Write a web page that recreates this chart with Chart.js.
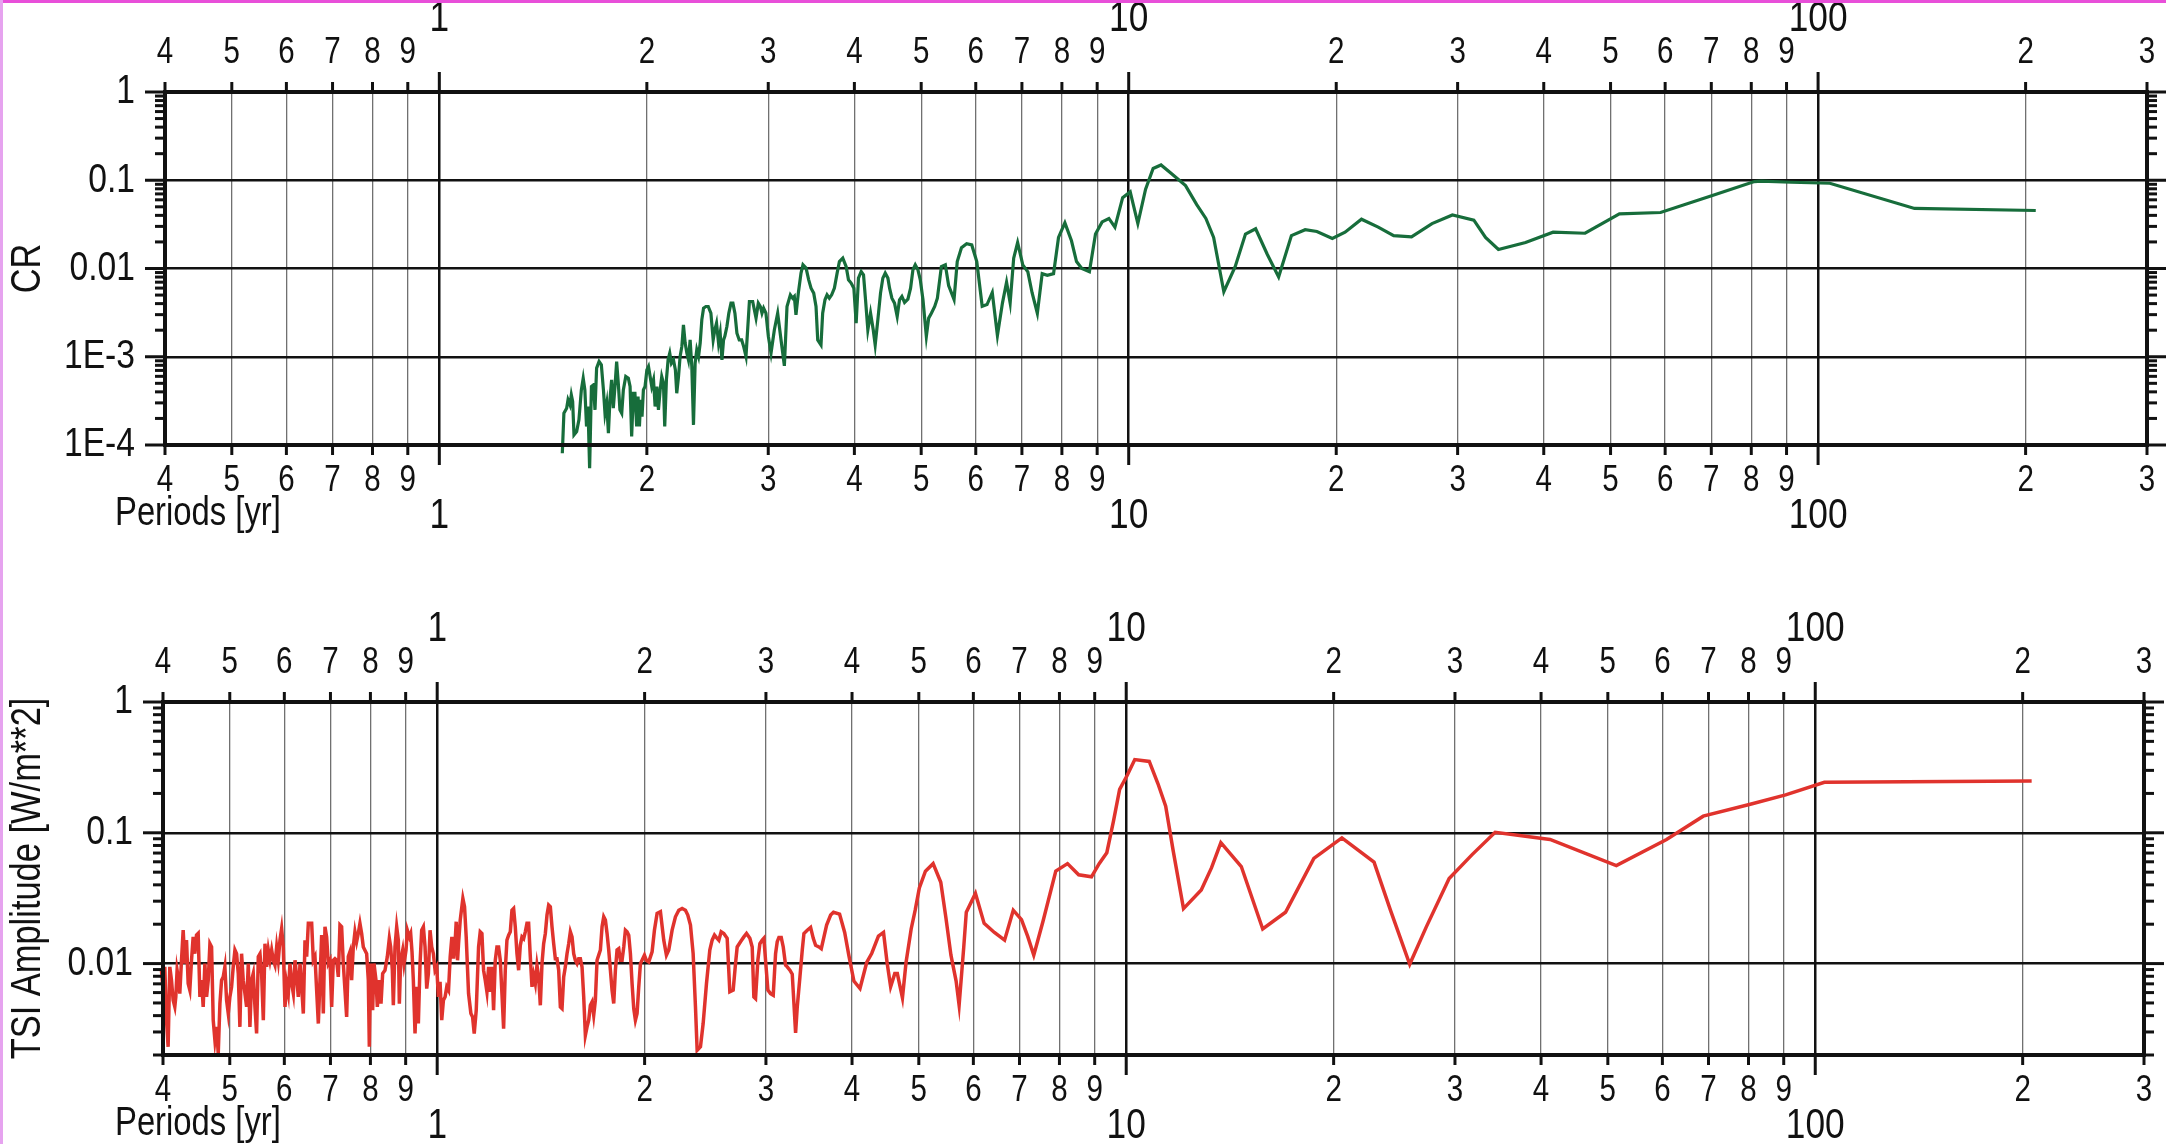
<!DOCTYPE html>
<html>
<head>
<meta charset="utf-8">
<script src="https://cdn.jsdelivr.net/npm/chart.js@4.4.1/dist/chart.umd.min.js"></script>
<style>
  html, body { margin: 0; padding: 0; background: #fff; }
  #page { position: relative; width: 2166px; height: 1144px; overflow: hidden; background: #fff; }
  canvas { position: absolute; left: 0; }
  #edgeTop { position: absolute; left: 0; top: 0; width: 2166px; height: 3px; background: #e84fd9; }
  #edgeLeft { position: absolute; left: 0; top: 0; width: 3px; height: 1144px; background: #e6a3ef; }
</style>
</head>
<body>
<div id="page">
  <canvas id="chartCR" width="2166" height="560" style="top:0"></canvas>
  <canvas id="chartTSI" width="2166" height="584" style="top:560px"></canvas>
  <div id="edgeTop"></div>
  <div id="edgeLeft"></div>
</div>
<script>
// period axis (years), same for both panels
const periodTicks = [0.4,0.5,0.6,0.7,0.8,0.9,1,2,3,4,5,6,7,8,9,10,20,30,40,50,60,70,80,90,100,200,300];
const periodTickLabels = ['4','5','6','7','8','9','','2','3','4','5','6','7','8','9','','2','3','4','5','6','7','8','9','','2','3'];
const decadeTicks = [1, 10, 100];
const decadeLabels = ['1', '10', '100'];

const crYTicks = [1, 0.1, 0.01, 0.001, 0.0001];
const crYLabels = ['1', '0.1', '0.01', '1E-3', '1E-4'];
const tsiYTicks = [1, 0.1, 0.01];
const tsiYLabels = ['1', '0.1', '0.01'];

// CR spectrum
const crPeriod = [1.508,1.516,1.530,1.537,1.547,1.554,1.561,1.568,1.582,1.594,1.607,1.617,1.626,1.635,1.643,1.652,1.662,1.673,1.682,1.691,
  1.705,1.718,1.730,1.739,1.749,1.759,1.768,1.778,1.788,1.798,1.808,1.818,1.828,1.839,1.849,1.864,1.880,1.891,1.901,1.912,
  1.922,1.933,1.942,1.951,1.959,1.968,1.977,1.988,2.000,2.011,2.022,2.033,2.045,2.056,2.068,2.079,2.091,2.102,2.114,2.123,
  2.135,2.147,2.159,2.171,2.186,2.200,2.210,2.223,2.235,2.248,2.260,2.273,2.286,2.298,2.311,2.324,2.337,2.350,2.363,2.377,
  2.390,2.403,2.417,2.436,2.455,2.477,2.496,2.510,2.524,2.541,2.555,2.570,2.584,2.595,2.613,2.630,2.649,2.666,2.684,2.702,
  2.723,2.745,2.763,2.785,2.817,2.848,2.880,2.902,2.922,2.938,2.954,2.977,3.001,3.028,3.062,3.096,3.131,3.166,3.194,3.230,
  3.255,3.273,3.291,3.317,3.347,3.369,3.404,3.434,3.461,3.492,3.519,3.539,3.578,3.598,3.626,3.651,3.679,3.708,3.742,3.776,
  3.805,3.848,3.892,3.922,3.957,3.993,4.024,4.055,4.092,4.124,4.152,4.184,4.222,4.260,4.288,4.326,4.365,4.399,4.434,4.474,
  4.499,4.534,4.574,4.615,4.651,4.688,4.730,4.783,4.826,4.864,4.902,4.946,4.985,5.030,5.087,5.127,5.173,5.231,5.278,5.349,
  5.42,5.48,5.58,5.64,5.72,5.82,5.92,6.02,6.13,6.23,6.34,6.45,6.56,6.65,6.73,6.81,6.90,7.02,7.14,7.24,
  7.37,7.49,7.62,7.78,7.91,8.08,8.26,8.40,8.55,8.77,8.95,9.15,9.36,9.55,9.80,10.05,10.31,10.58,10.85,11.14,
  11.53,12.09,12.55,12.94,13.28,13.74,14.27,14.77,15.28,15.89,16.50,17.22,18.03,18.75,19.74,20.60,21.76,23.01,24.23,25.72,
  27.54,29.48,31.67,32.93,34.38,37.64,41.27,45.92,51.50,59.09,70.43,80.84,82.70,91.33,104.0,138.0,206.9];
const crValue = [8.07e-5,2.29e-4,2.61e-4,3.25e-4,2.85e-4,3.70e-4,3.11e-4,1.30e-4,1.42e-4,1.93e-4,4.21e-4,5.71e-4,4.21e-4,1.62e-4,2.73e-4,5.45e-5,4.60e-4,4.80e-4,2.50e-4,7.42e-4,
  8.83e-4,8.09e-4,4.21e-4,2.29e-4,2.98e-4,1.36e-4,3.25e-4,5.47e-4,2.61e-4,4.60e-4,8.83e-4,5.02e-4,2.50e-4,2.29e-4,4.21e-4,5.97e-4,5.71e-4,4.60e-4,1.25e-4,3.86e-4,
  3.86e-4,1.62e-4,3.54e-4,1.62e-4,3.25e-4,2.10e-4,4.21e-4,4.60e-4,7.10e-4,7.75e-4,5.97e-4,4.60e-4,5.47e-4,2.73e-4,4.60e-4,2.50e-4,4.21e-4,5.97e-4,5.02e-4,1.62e-4,
  5.47e-4,9.23e-4,1.10e-3,8.46e-4,9.23e-4,7.10e-4,3.86e-4,5.97e-4,1.01e-3,1.31e-3,2.30e-3,1.43e-3,1.10e-3,9.23e-4,1.55e-3,7.75e-4,1.69e-4,8.46e-4,1.20e-3,1.01e-3,
  1.43e-3,2.62e-3,3.55e-3,3.71e-3,3.71e-3,3.12e-3,1.55e-3,2.02e-3,2.40e-3,1.43e-3,1.85e-3,9.23e-4,1.55e-3,1.70e-3,2.20e-3,3.12e-3,4.05e-3,4.05e-3,3.12e-3,1.85e-3,
  1.55e-3,1.55e-3,1.31e-3,1.01e-3,4.23e-3,4.23e-3,2.74e-3,4.05e-3,3.71e-3,3.12e-3,3.55e-3,3.12e-3,1.70e-3,1.10e-3,2.02e-3,3.12e-3,1.55e-3,7.88e-4,3.71e-3,5.03e-3,
  4.61e-3,4.82e-3,2.99e-3,5.26e-3,8.86e-3,1.10e-2,1.01e-2,7.44e-3,5.99e-3,5.26e-3,3.71e-3,1.55e-3,1.36e-3,3.12e-3,4.42e-3,5.03e-3,4.61e-3,5.03e-3,5.99e-3,8.86e-3,
  1.20e-2,1.31e-2,1.05e-2,7.44e-3,6.83e-3,5.99e-3,2.40e-3,7.78e-3,9.25e-3,8.48e-3,4.42e-3,2.02e-3,3.12e-3,2.02e-3,1.36e-3,2.62e-3,5.26e-3,7.78e-3,8.86e-3,7.78e-3,
  5.99e-3,4.61e-3,4.05e-3,2.86e-3,4.42e-3,4.82e-3,4.12e-3,4.49e-3,5.99e-3,9.66e-3,1.10e-2,9.66e-3,7.44e-3,4.42e-3,1.70e-3,2.74e-3,3.12e-3,3.71e-3,4.61e-3,1.05e-2,
  0.0110,0.00640,0.00446,0.0120,0.0172,0.0191,0.0185,0.0120,0.00373,0.00390,0.00535,0.00174,0.00408,0.00700,0.00408,0.0131,0.0197,0.0110,0.00917,0.00535,
  0.00311,0.00875,0.00838,0.00875,0.0225,0.0329,0.0206,0.0120,0.0100,0.00917,0.0246,0.0337,0.0369,0.0294,0.0634,0.0738,0.0323,0.0793,0.136,0.149,
  0.119,0.0869,0.0529,0.0369,0.0225,0.00545,0.0105,0.0246,0.0282,0.0144,0.00801,0.0236,0.0275,0.0263,0.0219,0.0258,0.0362,0.0294,0.0236,0.0229,
  0.0323,0.0404,0.0353,0.0225,0.0164,0.0197,0.0258,0.0251,0.0415,0.0431,0.0675,0.0966,0.0975,0.0949,0.0925,0.0479,0.0454];

// TSI amplitude spectrum
const tsiPeriod = [0.3979,0.4002,0.4024,0.4047,0.4069,0.4092,0.4115,0.4138,0.4161,0.4175,0.4193,0.4208,0.4231,0.4255,0.4279,0.4303,0.4327,0.4351,0.4375,0.4400,
  0.4424,0.4449,0.4474,0.4499,0.4525,0.4550,0.4575,0.4601,0.4627,0.4653,0.4679,0.4705,0.4731,0.4758,0.4784,0.4811,0.4838,0.4865,0.4892,0.4919,
  0.4947,0.4975,0.5002,0.5030,0.5058,0.5087,0.5115,0.5144,0.5172,0.5201,0.5230,0.5260,0.5289,0.5319,0.5348,0.5378,0.5408,0.5439,0.5469,0.5500,
  0.5531,0.5561,0.5593,0.5624,0.5655,0.5687,0.5719,0.5751,0.5783,0.5815,0.5848,0.5880,0.5913,0.5946,0.5979,0.6013,0.6047,0.6080,0.6114,0.6149,
  0.6183,0.6218,0.6252,0.6287,0.6323,0.6358,0.6393,0.6429,0.6465,0.6501,0.6574,0.6610,0.6647,0.6684,0.6722,0.6759,0.6797,0.6835,0.6873,0.6911,
  0.6950,0.6989,0.7028,0.7067,0.7106,0.7146,0.7186,0.7226,0.7266,0.7307,0.7348,0.7389,0.7430,0.7471,0.7513,0.7555,0.7597,0.7640,0.7682,0.7725,
  0.7769,0.7812,0.7900,0.7944,0.7971,0.8006,0.8060,0.8096,0.8150,0.8187,0.8242,0.8288,0.8334,0.8399,0.8465,0.8522,0.8560,0.8608,0.8637,0.8685,
  0.8734,0.8782,0.8812,0.8852,0.8911,0.8951,0.9011,0.9051,0.9112,0.9152,0.9193,0.9234,0.9286,0.9338,0.9390,0.9443,0.9495,0.9549,0.9602,0.9656,
  0.9710,0.9764,0.9819,0.9874,0.9929,0.9984,1.0040,1.0096,1.0153,1.0210,1.0267,1.0324,1.0386,1.0444,1.0503,1.0562,1.0621,1.0656,1.0704,1.0740,
  1.0800,1.0896,1.0957,1.1018,1.1105,1.1192,1.1255,1.1317,1.1394,1.1483,1.1547,1.1612,1.1677,1.1742,1.1808,1.1874,1.1940,1.2007,1.2074,1.2142,
  1.2210,1.2278,1.2347,1.2416,1.2485,1.2555,1.2625,1.2696,1.2767,1.2838,1.2910,1.2982,1.3055,1.3128,1.3201,1.3275,1.3349,1.3424,1.3499,1.3574,
  1.3650,1.3727,1.3803,1.3881,1.3958,1.4036,1.4115,1.4194,1.4273,1.4353,1.4433,1.4514,1.4595,1.4677,1.4759,1.4841,1.4924,1.5008,1.5092,1.5176,
  1.5261,1.5346,1.5432,1.5518,1.5605,1.5692,1.5780,1.5868,1.5957,1.6046,1.6136,1.6226,1.6317,1.6408,1.6500,1.6592,1.6685,1.6778,1.6872,1.6966,
  1.7061,1.7156,1.7252,1.7349,1.7446,1.7543,1.7641,1.7740,1.7839,1.7939,1.8039,1.8140,1.8241,1.8343,1.8446,1.8549,1.8653,1.8757,1.8862,1.8967,
  1.9073,1.9180,1.9287,1.9395,1.9503,1.9612,1.9722,1.9987,2.0121,2.0279,2.0506,2.0667,2.0852,2.1086,2.1322,2.1513,2.1682,2.1925,2.2171,2.2419,
  2.2671,2.2925,2.3105,2.3312,2.3521,2.3705,2.3838,2.4105,2.4321,2.4594,2.4869,2.5064,2.5261,2.5430,2.5630,2.5831,2.6062,2.6355,2.6590,2.6889,
  2.7100,2.7251,2.7557,2.7866,2.8115,2.8431,2.8654,2.8814,2.8975,2.9202,2.9398,2.9629,2.9794,2.9961,3.0197,3.0467,3.0740,3.0981,3.1154,3.1328,
  3.1574,3.1786,3.2035,3.2214,3.2502,3.2757,3.2941,3.3125,3.3310,3.3609,3.3872,3.4061,3.4443,3.4829,3.5141,3.5417,3.5814,3.6095,3.6418,3.6744,
  3.7239,3.760,3.837,3.903,3.957,4.025,4.108,4.201,4.273,4.369,4.444,4.497,4.551,4.614,4.654,4.734,4.791,4.874,4.940,5.009,
  5.112,5.245,5.381,5.474,5.567,5.664,5.721,5.810,5.860,6.042,6.220,6.437,6.660,6.856,7.047,7.193,7.342,7.443,7.571,7.903,
  8.219,8.531,8.904,9.135,9.372,9.583,9.782,10.03,10.29,10.80,11.12,11.41,11.70,12.11,12.85,13.30,13.72,14.69,15.78,17.03,
  18.72,20.56,22.89,24.18,25.79,27.25,29.42,31.77,34.31,41.22,51.44,60.84,68.77,80.75,90.57,103.1,206.1];
const tsiValue = [0.0089,0.00626,0.00944,0.00369,0.00231,0.00944,0.00746,0.00524,0.00467,0.00556,0.0089,0.00791,0.0059,0.0106,0.018,0.01,0.0151,0.00703,0.00626,0.0106,
  0.016,0.0119,0.0165,0.017,0.00556,0.00746,0.00467,0.01,0.00556,0.00746,0.0142,0.0134,0.00369,0.00259,0.00328,0.00205,0.00494,0.00746,0.00791,0.00944,
  0.00524,0.00415,0.00556,0.00663,0.00944,0.0127,0.0119,0.00839,0.00328,0.0119,0.00746,0.0059,0.00467,0.01,0.00328,0.00746,0.00839,0.00467,0.00292,0.0113,
  0.0119,0.00839,0.00369,0.0142,0.00944,0.0127,0.0106,0.0127,0.0106,0.00972,0.0134,0.0106,0.0151,0.0185,0.0134,0.00467,0.00703,0.0059,0.01,0.00703,
  0.0059,0.0106,0.00791,0.00556,0.01,0.00663,0.00415,0.0151,0.0113,0.0203,0.0203,0.0106,0.0113,0.00626,0.00348,0.00746,0.0165,0.00415,0.0191,0.016,
  0.01,0.0106,0.00467,0.0106,0.0109,0.0106,0.00791,0.0197,0.0191,0.01,0.00626,0.00391,0.0113,0.0123,0.00746,0.0134,0.0175,0.0147,0.017,0.0203,
  0.017,0.0134,0.0119,0.00746,0.00231,0.01,0.0044,0.01,0.00746,0.00467,0.00746,0.00494,0.00839,0.0089,0.0113,0.0156,0.0134,0.0089,0.0048,0.0134,
  0.0191,0.0151,0.00494,0.0106,0.0127,0.01,0.0127,0.018,0.016,0.017,0.0123,0.00746,0.00292,0.00663,0.00348,0.01,0.018,0.0191,0.0134,0.00644,
  0.00839,0.018,0.0134,0.0119,0.0089,0.00944,0.00556,0.00724,0.00369,0.00524,0.00556,0.00663,0.00625,0.0113,0.016,0.0109,0.0151,0.0209,0.0106,0.0142,
  0.0215,0.0315,0.0272,0.016,0.0059,0.00415,0.00391,0.00292,0.0044,0.0134,0.0175,0.017,0.0089,0.00746,0.00608,0.00944,0.00608,0.00944,0.0044,0.0106,
  0.0134,0.0134,0.0106,0.0059,0.00318,0.0089,0.0151,0.0165,0.0175,0.0256,0.0264,0.0191,0.0119,0.0089,0.0138,0.016,0.0155,0.0175,0.0203,0.0203,
  0.0113,0.00664,0.00815,0.00703,0.00971,0.00791,0.0048,0.01,0.0142,0.017,0.0235,0.028,0.0272,0.0191,0.0142,0.0109,0.0109,0.0089,0.00466,0.00453,
  0.00791,0.00944,0.0119,0.0142,0.0175,0.016,0.0119,0.0106,0.01,0.0109,0.0109,0.00944,0.00556,0.00283,0.00328,0.00369,0.0048,0.00509,0.00403,0.00525,
  0.0106,0.0116,0.0127,0.0191,0.0228,0.0215,0.017,0.0127,0.0089,0.00625,0.00495,0.0089,0.0127,0.013,0.0106,0.0106,0.0134,0.018,0.0175,0.0165,
  0.0119,0.00703,0.00453,0.00369,0.00415,0.00664,0.01,0.0116,0.0106,0.0103,0.0123,0.018,0.0242,0.0249,0.0151,0.0116,0.0127,0.018,0.0228,0.0256,
  0.0264,0.0256,0.0235,0.0197,0.0119,0.00467,0.00217,0.00231,0.00348,0.00704,0.0127,0.0151,0.0165,0.0158,0.0151,0.0175,0.017,0.0156,0.00608,0.00626,
  0.01,0.0134,0.0147,0.016,0.017,0.0156,0.0134,0.00556,0.0054,0.0106,0.0142,0.0151,0.0156,0.0106,0.00626,0.0059,0.00573,0.0119,0.0147,0.0158,
  0.0158,0.0134,0.00972,0.00944,0.0089,0.00829,0.00495,0.00295,0.00467,0.00792,0.0127,0.017,0.018,0.0189,0.0156,0.0138,0.0134,0.013,0.016,0.0197,
  0.0235,0.0247,0.0239,0.0173,0.0116,0.00735,0.00645,0.0102,0.012,0.0162,0.0173,0.0102,0.00666,0.00838,0.00838,0.00547,0.0102,0.0184,0.0256,0.0379,
  0.0509,0.0581,0.0418,0.0224,0.0116,0.00735,0.0048,0.0133,0.0247,0.0344,0.0203,0.0173,0.0151,0.0256,0.0217,0.0162,0.0116,0.0151,0.021,0.0509,
  0.0581,0.0477,0.0461,0.0581,0.0704,0.123,0.215,0.274,0.363,0.351,0.237,0.16,0.0727,0.0263,0.0365,0.0541,0.084,0.0552,0.0184,0.0247,
  0.0638,0.0915,0.0597,0.0256,0.00987,0.019,0.0447,0.0681,0.101,0.0889,0.0562,0.0889,0.134,0.166,0.195,0.243,0.249];

const FONT = '"Liberation Sans", Arial, Helvetica, sans-serif';
const INK = '#111';

function drawText(ctx, s, x, y, size, align, baseline, rot) {
  ctx.save();
  ctx.translate(x, y);
  if (rot) ctx.rotate(rot);
  ctx.scale(0.82, 1); // narrow face like the original
  ctx.font = size + 'px ' + FONT;
  ctx.textAlign = align || 'center';
  ctx.textBaseline = baseline || 'middle';
  ctx.fillStyle = INK;
  ctx.fillText(s, 0, 0);
  ctx.restore();
}

function seg(ctx, x1, y1, x2, y2) {
  ctx.beginPath();
  ctx.moveTo(x1, y1);
  ctx.lineTo(x2, y2);
  ctx.stroke();
}

// frame, tick marks and all axis text
function frameAxes(cfg) {
  return {
    id: 'frameAxes',
    afterDraw(chart) {
      const ctx = chart.ctx;
      const a = chart.chartArea;
      const xs = chart.scales.x, ys = chart.scales.y;
      ctx.save();
      ctx.strokeStyle = INK;
      ctx.lineCap = 'butt';

      // x ticks top + bottom
      ctx.lineWidth = 3;
      periodTicks.forEach((p, i) => {
        const px = xs.getPixelForValue(p);
        const len = decadeTicks.includes(p) ? 20 : 10;
        seg(ctx, px, a.top - len, px, a.top);
        seg(ctx, px, a.bottom, px, a.bottom + len);
        if (periodTickLabels[i]) {
          drawText(ctx, periodTickLabels[i], px, a.top - 39, 36);
          drawText(ctx, periodTickLabels[i], px, a.bottom + 36, 36);
        }
      });
      decadeTicks.forEach((p, i) => {
        const px = xs.getPixelForValue(p);
        drawText(ctx, decadeLabels[i], px, a.top - 73, 43);
        drawText(ctx, decadeLabels[i], px, a.bottom + 71, 43);
      });

      // y ticks left (out) and right (out)
      cfg.yTicks.forEach((v, i) => {
        const py = ys.getPixelForValue(v);
        seg(ctx, a.left - 20, py, a.left, py);
        seg(ctx, a.right, py, a.right + 20, py);
        drawText(ctx, cfg.yLabels[i], a.left - 30, py, 41, 'right');
      });
      const e0 = Math.floor(Math.log10(ys.min));
      for (let e = e0; e < Math.log10(ys.max); e++) {
        for (let k = 2; k <= 9; k++) {
          const v = k * Math.pow(10, e);
          if (v < ys.min || v > ys.max) continue;
          const py = ys.getPixelForValue(v);
          seg(ctx, a.left - 10, py, a.left, py);
          seg(ctx, a.right, py, a.right + 10, py);
        }
      }

      // box
      ctx.lineWidth = 4;
      ctx.strokeRect(a.left, a.top, a.right - a.left, a.bottom - a.top);

      drawText(ctx, cfg.yTitle, 40, (a.top + a.bottom) / 2, 42, 'center', 'alphabetic', -Math.PI / 2);
      drawText(ctx, 'Periods [yr]', 115, a.bottom + 69, 40, 'left');
      ctx.restore();
    }
  };
}

function makeChart(id, period, value, color, width, yMin, yMax, pad, cfg) {
  const points = period.map((p, i) => ({x: p, y: value[i]}));
  const isDecade = c => c.tick && decadeTicks.includes(c.tick.value);
  return new Chart(document.getElementById(id), {
    type: 'line',
    data: {
      datasets: [{
        data: points,
        borderColor: color,
        borderWidth: width,
        pointRadius: 0,
        tension: 0,
        clip: false
      }]
    },
    options: {
      responsive: false,
      animation: false,
      devicePixelRatio: 1,
      layout: { padding: pad },
      plugins: { legend: { display: false }, tooltip: { enabled: false } },
      scales: {
        x: {
          type: 'logarithmic',
          min: 0.4,
          max: 300,
          afterBuildTicks: s => { s.ticks = periodTicks.map(v => ({value: v})); },
          afterFit: s => { s.height = 0; },
          ticks: { display: false },
          border: { display: false },
          grid: {
            drawTicks: false,
            color: c => isDecade(c) ? INK : '#707070',
            lineWidth: c => isDecade(c) ? 2.5 : 1.3
          }
        },
        y: {
          type: 'logarithmic',
          min: yMin,
          max: yMax,
          afterBuildTicks: s => { s.ticks = cfg.yTicks.map(v => ({value: v})); },
          afterFit: s => { s.width = 0; },
          ticks: { display: false },
          border: { display: false },
          grid: { drawTicks: false, color: INK, lineWidth: 2.5 }
        }
      }
    },
    plugins: [frameAxes(cfg)]
  });
}

makeChart('chartCR', crPeriod, crValue, '#176d3b', 3.2, 0.0001, 1,
  { left: 165, right: 19, top: 92, bottom: 115 },
  { yTicks: crYTicks, yLabels: crYLabels, yTitle: 'CR' });

makeChart('chartTSI', tsiPeriod, tsiValue, '#e0332d', 3.5, 0.002, 1,
  { left: 163, right: 22, top: 142, bottom: 89 },
  { yTicks: tsiYTicks, yLabels: tsiYLabels, yTitle: 'TSI Amplitude [W/m**2]' });
</script>
</body>
</html>
